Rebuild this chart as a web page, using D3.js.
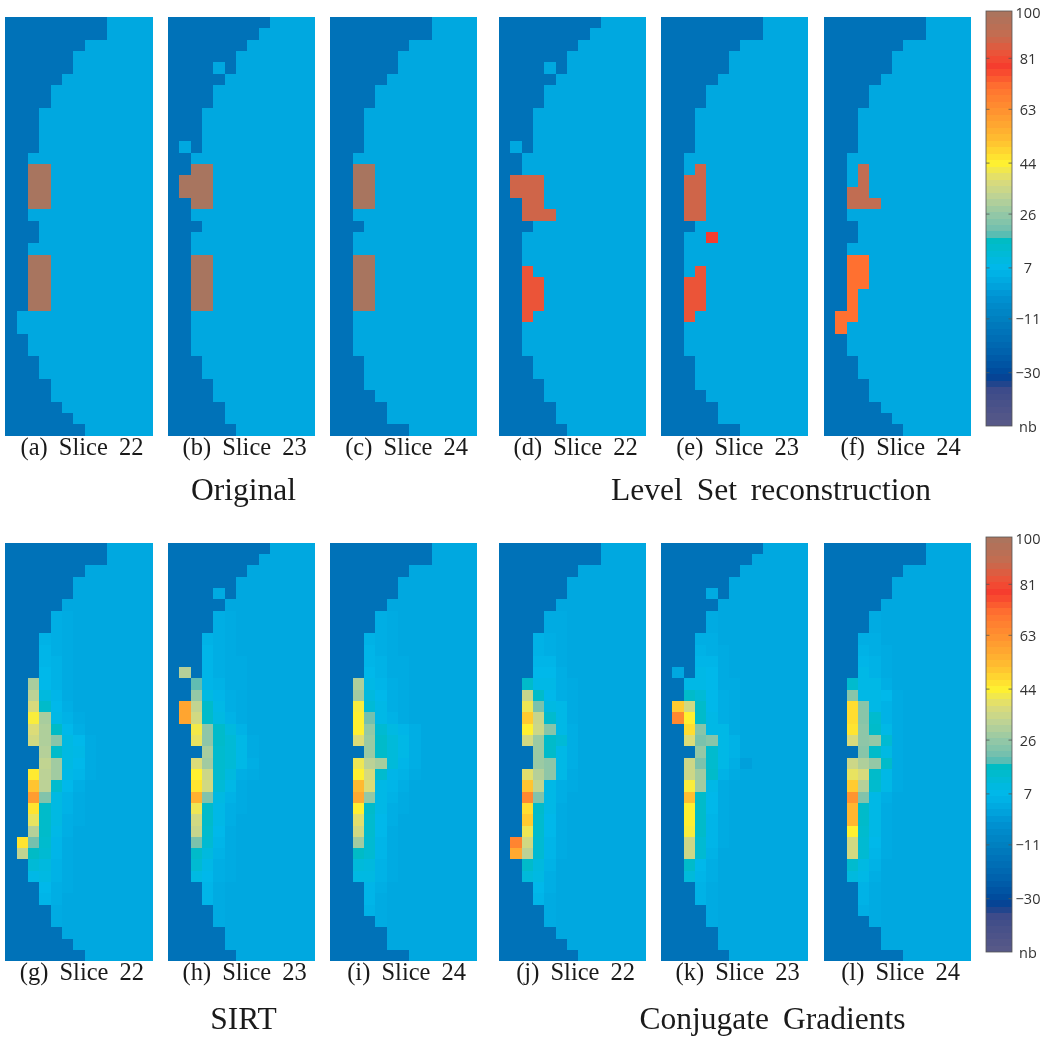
<!DOCTYPE html>
<html>
<head>
<meta charset="utf-8">
<script src="https://cdn.jsdelivr.net/npm/d3@7"></script>
<style>
html,body{margin:0;padding:0;background:#fff}
svg{display:block;filter:blur(0.45px)}
.cap,.ttl{font-family:"Liberation Serif",serif;fill:#1a1a1a;text-anchor:middle}
.cap{font-size:24.5px;word-spacing:5px}
.ttl{font-size:31.5px;word-spacing:6px}
.cb{font-family:"Open Sans",sans-serif;font-size:14.5px;fill:#333;text-anchor:middle}
rect.cell{shape-rendering:crispEdges}
</style>
</head>
<body>
<svg id="c" width="1050" height="1044"></svg>
<script>
// ---------- data ----------
const d = -16;      // tissue outside the object
const b = 2;        // homogeneous object value
const nCols = 13, nRows = 37;

// number of "outside" cells from the left on each row
const edgeA = [9,9,7,6,6,5,4,4,3,3,3,3,2,2,2,2,2,2,3,3,2,2,2,2,2,2,1,1,2,2,3,3,4,4,5,6,7];
const edgeB = [9,8,7,6,6,5,4,4,3,3,3,3,2,2,2,2,2,2,3,2,2,2,2,2,2,2,2,2,2,2,3,3,4,4,5,5,6];
const edgeC = [9,9,7,6,6,5,4,4,3,3,3,3,2,2,2,2,2,2,3,2,2,2,2,2,2,2,2,2,2,2,3,3,3,4,5,5,7];
const edgeF = [9,9,7,6,6,5,4,4,3,3,3,3,2,2,2,2,2,2,3,3,2,2,2,2,2,2,2,2,2,2,3,3,4,4,5,6,7];

// [row, col, value]
const patchA = [[13,2,100],[13,3,100],[14,2,100],[14,3,100],[15,2,100],[15,3,100],[16,2,100],[16,3,100],
  [21,2,100],[21,3,100],[22,2,100],[22,3,100],[23,2,100],[23,3,100],[24,2,100],[24,3,100],[25,2,100],[25,3,100]];
const patchB = [[4,4,2],[11,1,2],[13,2,100],[13,3,100],[14,1,100],[14,2,100],[14,3,100],[15,1,100],[15,2,100],[15,3,100],[16,2,100],[16,3,100],
  [21,2,100],[21,3,100],[22,2,100],[22,3,100],[23,2,100],[23,3,100],[24,2,100],[24,3,100],[25,2,100],[25,3,100]];
const patchC = patchA;
const patchD = [[4,4,2],[11,1,2],[14,1,88],[14,2,88],[14,3,88],[15,1,88],[15,2,88],[15,3,88],[16,2,88],[16,3,88],[17,2,88],[17,3,88],[17,4,88],
  [22,2,83],[23,2,83],[23,3,83],[24,2,83],[24,3,83],[25,2,83],[25,3,83],[26,2,83]];
const patchE = [[13,3,88],[14,2,88],[14,3,88],[15,2,88],[15,3,88],[16,2,88],[16,3,88],[17,2,88],[17,3,88],[19,4,78],
  [22,3,83],[23,2,83],[23,3,83],[24,2,83],[24,3,83],[25,2,83],[25,3,83],[26,2,83]];
const patchF = [[13,3,91],[14,3,91],[15,2,91],[15,3,91],[16,2,91],[16,3,91],[16,4,91],
  [21,2,71],[21,3,71],[22,2,71],[22,3,71],[23,2,71],[23,3,71],[24,2,71],[25,2,71],[26,1,71],[26,2,71],[27,1,71]];
const patchH = [[4,4,3]];
const patchK = [[4,4,3]];

// rows 6..33, cols 1..7
const sirtG = [
[d,d,d,4,3,2,2],[d,d,d,4,3,2,2],[d,d,5,4,3,2,2],[d,d,6,4,3,2,2],[d,d,6,5,3,2,2],[d,d,7,5,3,2,2],
[d,29,7,5,3,2,2],[d,32,10,6,3,2,2],[d,37,15,7,4,2,2],[d,43,29,8,5,3,2],[d,38,30,16,7,4,2],[d,36,30,24,9,7,3],
[d,d,31,15,9,8,3],[d,d,33,28,9,7,3],[d,45,32,28,8,6,3],[d,51,32,14,7,4,2],[d,60,23,9,5,3,2],[d,46,15,9,5,3,2],
[d,40,15,9,4,3,2],[d,31,15,8,4,2,2],[46,21,14,6,3,2,2],[33,16,13,6,3,2,2],[d,12,10,5,3,2,2],[d,8,9,5,3,2,2],
[d,d,7,4,3,2,2],[d,d,6,4,2,2,2],[d,d,d,3,2,2,2],[d,d,d,3,2,2,2]];
const sirtH = [
[d,d,d,4,3,2,2],[d,d,d,4,3,2,2],[d,d,5,4,3,2,2],[d,d,6,4,3,2,2],[d,d,6,4,3,3,2],[31,d,6,4,3,3,2],
[d,19,6,5,3,3,2],[d,26,9,6,4,3,2],[58,33,15,8,4,3,2],[58,36,15,9,5,3,2],[d,42,25,15,10,5,2],[d,40,25,15,12,8,3],
[d,d,29,14,12,8,3],[d,38,28,14,12,8,4],[d,44,35,14,10,4,3],[d,46,36,12,8,3,2],[d,55,23,9,5,3,2],[d,41,15,8,4,3,2],
[d,36,15,8,4,2,2],[d,34,14,7,3,2,2],[d,22,13,6,3,2,2],[d,15,10,5,3,2,2],[d,13,8,4,3,2,2],[d,9,7,4,3,2,2],
[d,d,6,3,2,2,2],[d,d,6,3,2,2,2],[d,d,d,3,2,2,2],[d,d,d,3,2,2,2]];
const sirtI = [
[d,d,d,4,3,2,2],[d,d,d,4,3,2,2],[d,d,5,4,3,2,2],[d,d,6,4,3,2,2],[d,d,6,5,3,3,2],[d,d,7,5,3,3,2],
[d,30,8,6,4,3,2],[d,28,10,7,4,3,2],[d,43,12,8,4,3,2],[d,44,21,8,5,3,2],[d,44,26,13,9,6,4],[d,38,27,15,11,8,4],
[d,d,27,15,11,8,4],[d,41,32,29,11,6,4],[d,44,37,14,6,5,3],[d,53,38,8,6,4,2],[d,57,26,8,5,3,2],[d,44,15,8,4,3,2],
[d,39,14,7,4,2,2],[d,36,14,7,3,2,2],[d,28,13,6,3,2,2],[d,16,13,6,3,2,2],[d,11,10,5,3,2,2],[d,9,9,5,3,2,2],
[d,d,6,4,2,2,2],[d,d,6,3,2,2,2],[d,d,5,3,2,2,2],[d,d,d,3,2,2,2]];
const cgJ = [
[d,d,d,3,3,2,2],[d,d,d,3,3,2,2],[d,d,5,4,3,2,2],[d,d,5,4,3,2,2],[d,d,6,6,3,2,2],[d,d,7,7,4,2,2],
[d,15,8,8,4,3,2],[d,34,15,7,4,3,2],[d,41,22,9,8,3,2],[d,50,34,14,8,3,2],[d,44,35,24,8,4,2],[d,36,27,15,12,4,2],
[d,d,27,15,8,4,2],[d,d,27,25,8,4,2],[d,39,31,25,8,3,2],[d,51,33,8,4,3,2],[d,65,23,8,4,2,2],[d,47,15,8,3,2,2],
[d,50,14,7,3,2,2],[d,41,14,7,3,2,2],[66,36,13,6,3,2,2],[57,32,13,6,3,2,2],[d,15,10,5,2,2,2],[d,11,9,4,2,2,2],
[d,d,7,4,2,2,2],[d,d,6,3,2,2,2],[d,d,d,3,2,2,2],[d,d,d,3,2,2,2]];
const cgK = [
[d,d,d,3,2,2,2],[d,d,d,3,2,2,2],[d,d,4,4,2,2,2],[d,d,5,4,3,2,2],[d,d,6,6,3,2,2],[2,d,8,7,3,2,2],
[d,8,8,7,3,3,2],[d,15,12,7,4,3,2],[50,36,15,7,4,3,2],[65,44,15,8,4,3,2],[d,47,24,8,8,3,2],[d,38,22,24,8,5,2],
[d,d,26,14,8,5,2],[d,35,22,14,8,4,0],[d,35,28,15,5,3,2],[d,43,28,8,3,2,2],[d,52,15,7,3,2,2],[d,44,15,7,3,2,2],
[d,44,15,6,3,2,2],[d,43,15,6,3,2,2],[d,35,13,6,3,2,2],[d,35,13,5,2,2,2],[d,15,7,4,2,2,2],[d,11,6,4,2,2,2],
[d,d,5,3,2,2,2],[d,d,5,3,2,2,2],[d,d,d,3,2,2,2],[d,d,d,3,2,2,2]];
const cgL = [
[d,d,d,3,2,2,2],[d,d,d,3,2,2,2],[d,d,4,4,2,2,2],[d,d,5,4,3,2,2],[d,d,6,5,3,2,2],[d,d,8,5,3,2,2],
[d,14,8,8,4,2,2],[d,24,8,8,7,3,2],[d,47,24,8,5,3,2],[d,47,24,14,5,3,2],[d,46,25,15,8,3,2],[d,37,25,26,13,3,2],
[d,d,24,15,9,3,2],[d,35,30,26,15,3,2],[d,40,37,15,8,3,2],[d,50,31,14,8,3,2],[d,62,23,8,4,2,2],[d,54,15,8,3,2,2],
[d,54,15,8,3,2,2],[d,44,14,8,3,2,2],[d,36,13,7,3,2,2],[d,36,13,6,3,2,2],[d,14,9,5,2,2,2],[d,10,8,4,2,2,2],
[d,d,5,3,2,2,2],[d,d,5,3,2,2,2],[d,d,4,3,2,2,2],[d,d,d,3,2,2,2]];

const captionsTop = ["(a) Slice 22","(b) Slice 23","(c) Slice 24","(d) Slice 22","(e) Slice 23","(f) Slice 24"];
const captionsBottom = ["(g) Slice 22","(h) Slice 23","(i) Slice 24","(j) Slice 22","(k) Slice 23","(l) Slice 24"];
const titlesTop = ["Original","Level Set reconstruction"];
const titlesBottom = ["SIRT","Conjugate Gradients"];
const tickValues = [81,63,44,26,7,-11,-30];
const tickLabels = ["100","81","63","44","26","7","\u221211","\u221230","nb"];

const colorDomain = [-49,-35,-33,-30,-22,-16,-11,-4,2,7,17.5,17.6,19.5,26,32,38,44,52,62,71,78,82,90,100];
const colorRange = ["#5a5a88","#3a4a8a","#0a4090","#004a9c","#0064ae","#0072b8","#0080c0","#0090d0","#00a8e0","#00b8ea","#00bcc0","#40bcb8","#6cbeb0","#94c8a6","#bcd296","#dcdc78","#fff030","#ffbe30","#ff9430","#ff7030","#f53c2e","#f05035","#c46c50","#a8755f"];

// ---------- layout ----------
const panelX = [5.3,168,330,499,661,824];
const panelW = 147.3, panelH = 418.6;
const rowTops = [17,542.7];
const color = d3.scaleLinear().domain(colorDomain).range(colorRange).clamp(true);
const x = d3.scaleLinear().domain([0,nCols]).range([0,panelW]);
const y = d3.scaleLinear().domain([0,nRows]).range([0,panelH]);
const svg = d3.select("#c");

function grid(edge, patches, matrix){
  const cells = [];
  for(let r=0;r<nRows;r++){
    for(let c=0;c<nCols;c++){
      let v = c<edge[r] ? d : b;
      if(matrix && r>=6 && r<6+matrix.length && c>=1 && c<=7) v = matrix[r-6][c-1];
      cells.push({r,c,v});
    }
  }
  (patches||[]).forEach(p=>{ cells[p[0]*nCols+p[1]].v = p[2]; });
  return cells;
}

const panels = [
  {row:0,col:0,cells:grid(edgeA,patchA)},
  {row:0,col:1,cells:grid(edgeB,patchB)},
  {row:0,col:2,cells:grid(edgeC,patchC)},
  {row:0,col:3,cells:grid(edgeB,patchD)},
  {row:0,col:4,cells:grid(edgeC,patchE)},
  {row:0,col:5,cells:grid(edgeF,patchF)},
  {row:1,col:0,cells:grid(edgeA,null,sirtG)},
  {row:1,col:1,cells:grid(edgeB,patchH,sirtH)},
  {row:1,col:2,cells:grid(edgeC,null,sirtI)},
  {row:1,col:3,cells:grid(edgeA,null,cgJ)},
  {row:1,col:4,cells:grid(edgeB,patchK,cgK)},
  {row:1,col:5,cells:grid(edgeC,null,cgL)}
];

panels.forEach(p=>{
  const g = svg.append("g").attr("transform",`translate(${panelX[p.col]},${rowTops[p.row]})`);
  g.selectAll("rect").data(p.cells).join("rect").attr("class","cell")
    .attr("x",c=>x(c.c)).attr("y",c=>y(c.r))
    .attr("width",c=>x(c.c+1)-x(c.c))
    .attr("height",c=>y(c.r+1)-y(c.r))
    .attr("fill",c=>color(c.v));
});

// captions
const capY = [455,980];
[captionsTop,captionsBottom].forEach((list,i)=>{
  svg.selectAll(null).data(list).join("text").attr("class","cap")
    .attr("x",(t,j)=>panelX[j]+panelW/2+3).attr("y",capY[i]).text(t=>t);
});
// titles
const titleY = [500,1029];
const titleCx = [[243.5,771],[243.5,772.5]];
[titlesTop,titlesBottom].forEach((list,i)=>{
  svg.selectAll(null).data(list).join("text").attr("class","ttl")
    .attr("x",(t,j)=>titleCx[i][j]).attr("y",titleY[i]).text(t=>t);
});

// colorbars
const barX = 986, barW = 26;
const barTops = [0,526];
const by = d3.scaleLinear().domain([100,81,-30,-49]).range([11,58.3,372.7,426]);
const levels = d3.range(64).map(i=>{
  const yA = 11+i*(415/64);
  return {y:yA, h:415/64, v:by.invert(yA+415/128)};
});
barTops.forEach(dy=>{
  const g = svg.append("g").attr("transform",`translate(0,${dy})`);
  g.selectAll("rect").data(levels).join("rect").attr("class","cell")
    .attr("x",barX).attr("y",l=>l.y).attr("width",barW).attr("height",l=>l.h)
    .attr("fill",l=>color(l.v));
  g.append("rect").attr("x",barX).attr("y",11).attr("width",barW).attr("height",415)
    .attr("fill","none").attr("stroke","#555").attr("stroke-width",0.8);
  tickValues.forEach(t=>{
    g.append("line").attr("x1",barX).attr("x2",barX+3.5).attr("y1",by(t)).attr("y2",by(t)).attr("stroke","#555").attr("stroke-width",0.8);
    g.append("line").attr("x1",barX+barW-3.5).attr("x2",barX+barW).attr("y1",by(t)).attr("y2",by(t)).attr("stroke","#555").attr("stroke-width",0.8);
  });
  const labelPos = [100].concat(tickValues,[-49]);
  g.selectAll("text").data(tickLabels).join("text").attr("class","cb")
    .attr("x",1028).attr("y",(t,i)=>by(labelPos[i])+5.5+(i==0?1:0)).text(t=>t);
});
</script>
</body>
</html>
